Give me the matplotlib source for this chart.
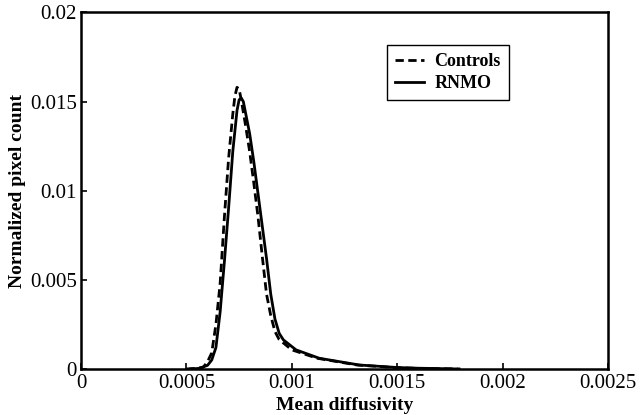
import numpy as np
import matplotlib.pyplot as plt

# points
ctrl_x = [0.00050, 0.00055, 0.00058, 0.00060, 0.00062, 0.00064, 0.00066, 0.00068,
          0.00070, 0.00072, 0.00073, 0.00074, 0.00075, 0.00076, 0.00078, 0.00080,
          0.00082, 0.00084, 0.00086, 0.00088, 0.00090, 0.00092, 0.00094, 0.00100,
          0.00112, 0.00131, 0.00150, 0.00160, 0.00170, 0.00180]
ctrl_y = [0.0, 0.00003, 0.0001, 0.0004, 0.0009, 0.0025, 0.0048, 0.0085,
          0.0118, 0.0143, 0.0153, 0.0158, 0.0157, 0.0151, 0.0137, 0.0122,
          0.0104, 0.0085, 0.0063, 0.0042, 0.0030, 0.0021, 0.00165, 0.00107,
          0.0006, 0.00022, 0.00007, 0.00003, 0.00001, 0.0]

rnmo_x = [0.00052, 0.00056, 0.00060, 0.00062, 0.00064, 0.00066, 0.00068, 0.00070,
          0.00072, 0.00074, 0.00075, 0.00076, 0.00077, 0.00078, 0.00080, 0.00082,
          0.00084, 0.00086, 0.00088, 0.00090, 0.00092, 0.00094, 0.00096, 0.00102,
          0.00113, 0.00132, 0.00150, 0.00160, 0.00170, 0.00178]
rnmo_y = [0.0, 0.00003, 0.0002, 0.0005, 0.0012, 0.0032, 0.0060, 0.0090,
          0.0122, 0.0145, 0.0151, 0.0152, 0.0150, 0.0144, 0.0132, 0.0116,
          0.0098, 0.0080, 0.0062, 0.0042, 0.0028, 0.0020, 0.00163, 0.00107,
          0.0006, 0.00022, 0.00008, 0.00004, 0.00002, 0.0]

xticks = [0, 0.0005, 0.001, 0.0015, 0.002, 0.0025]
xtick_labels = ['0', '0.0005', '0.001', '0.0015', '0.002', '0.0025']
yticks = [0, 0.005, 0.01, 0.015, 0.02]
ytick_labels = ['0', '0.005', '0.01', '0.015', '0.02']

plt.rcParams['font.family'] = ['Liberation Serif', 'DejaVu Serif']

fig = plt.figure(figsize=(6.4, 4.15), dpi=100, facecolor='white')
ax = fig.add_axes([0.1266, 0.111, 0.8234, 0.859])

ax.plot(ctrl_x, ctrl_y, color='black', linewidth=2.0, linestyle=(0, (3, 1.6)), label='Controls')
ax.plot(rnmo_x, rnmo_y, color='black', linewidth=2.0, linestyle='-', label='RNMO')

ax.set_xlim(0, 0.0025)
ax.set_ylim(0, 0.02)
ax.set_xticks(xticks)
ax.set_xticklabels(xtick_labels)
ax.set_yticks(yticks)
ax.set_yticklabels(ytick_labels)
ax.tick_params(direction='in', length=4, width=1.2, labelsize=15, top=False, right=False)
ax.tick_params(axis='x', pad=4)
ax.tick_params(axis='y', pad=3)

for s in ax.spines.values():
    s.set_linewidth(1.8)

ax.set_xlabel('Mean diffusivity', fontsize=14, fontweight='bold', labelpad=2.5)
ax.set_ylabel('Normalized pixel count', fontsize=14, fontweight='bold', labelpad=3)

leg = ax.legend(loc='upper left', bbox_to_anchor=(0.581, 0.908), fancybox=False,
                edgecolor='black', framealpha=1, prop={'size': 13, 'weight': 'bold'},
                handlelength=1.6, handletextpad=0.55, borderpad=0.45, labelspacing=0.25,
                borderaxespad=0)
leg.get_frame().set_linewidth(1.0)

fig.savefig('out.png', dpi=100, facecolor='white')
